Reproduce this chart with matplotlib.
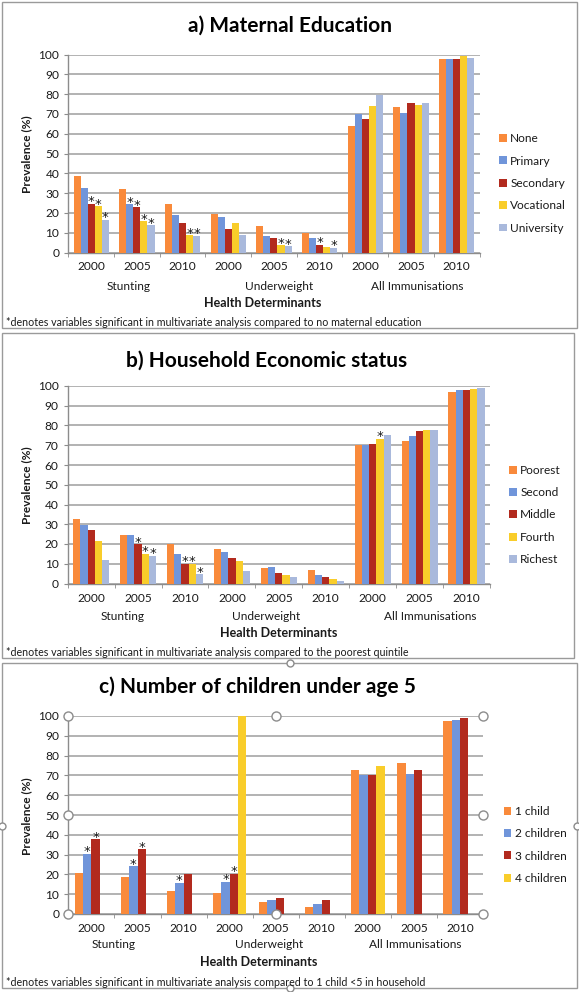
import numpy as np
import matplotlib
matplotlib.use("Agg")
import matplotlib.pyplot as plt
from matplotlib.patches import Rectangle
from matplotlib.transforms import blended_transform_factory

plt.rcParams['font.family'] = ['Lato', 'DejaVu Sans']

# categories
years = ['2000', '2005', '2010'] * 3
determinants = ['Stunting', 'Underweight', 'All Immunisations']
nan = np.nan

# a) maternal education
edu_labels = ['None', 'Primary', 'Secondary', 'Vocational', 'University']
edu_none = [38.8, 32.2, 24.6, 19.6, 13.2, 10.1, 64.1, 73.5, 97.8]
edu_primary = [32.7, 24.3, 18.7, 17.7, 8.4, 7.1, 70.2, 70.7, 97.5]
edu_secondary = [24.5, 22.8, 14.8, 11.8, 7.3, 4.0, 67.5, 75.5, 97.5]
edu_vocational = [23.3, 15.7, 8.6, 15.0, 3.6, 2.9, 73.9, 74.4, 99.2]
edu_university = [16.5, 13.8, 8.4, 8.6, 3.2, 2.4, 79.3, 75.7, 98.0]
# (group, series) pairs marked with *
edu_stars = [(0, 2), (0, 3), (0, 4), (1, 1), (1, 2), (1, 3), (1, 4),
             (2, 3), (2, 4), (4, 3), (4, 4), (5, 2), (5, 4)]

# b) household economic status
ses_labels = ['Poorest', 'Second', 'Middle', 'Fourth', 'Richest']
ses_poorest = [32.8, 24.8, 19.9, 17.7, 8.1, 6.6, 70.3, 72.3, 97.1]
ses_second = [29.7, 24.8, 14.8, 15.9, 8.4, 4.2, 70.3, 74.7, 97.8]
ses_middle = [26.9, 19.9, 10.1, 12.7, 5.2, 3.4, 70.6, 77.2, 98.0]
ses_fourth = [21.5, 14.9, 9.9, 11.5, 4.1, 2.4, 73.3, 77.5, 98.3]
ses_richest = [12.0, 13.9, 4.6, 6.1, 3.5, 1.5, 75.3, 77.9, 99.0]
ses_stars = [(1, 2), (1, 3), (1, 4), (2, 2), (2, 3), (2, 4), (6, 3)]

# c) number of children under 5
kids_labels = ['1 child', '2 children', '3 children', '4 children']
kids_1 = [20.5, 18.6, 11.6, 10.4, 5.9, 3.5, 72.9, 76.4, 97.6]
kids_2 = [30.4, 24.0, 15.8, 16.3, 6.9, 5.0, 70.2, 70.5, 98.1]
kids_3 = [37.8, 32.6, 20.0, 20.3, 7.9, 7.1, 70.2, 72.6, 98.8]
kids_4 = [nan, nan, nan, 100.0, nan, nan, 74.9, nan, nan]
kids_stars = [(0, 1), (0, 2), (1, 1), (1, 2), (2, 1), (3, 1), (3, 2)]

colors = ['#F98A3B', '#7095DA', '#B22A1E', '#F9CD2A', '#A9B9DC']
grid_c = '#A6A6A6'
axis_c = '#8C8C8C'
text_c = '#1A1A1A'
fs = 8.6

W, H = 579, 992
fig = plt.figure(figsize=(W / 100, H / 100), dpi=100)


def rect(x0, y0, x1, y1):
    return [x0 / W, 1 - y1 / H, (x1 - x0) / W, (y1 - y0) / H]


panels = [
    dict(box=(2, 2, 577, 328), plot=(68.4, 54.5, 479.5, 252.5),
         title='a) Maternal Education', title_xy=(290, 26),
         series=[edu_none, edu_primary, edu_secondary, edu_vocational, edu_university],
         labels=edu_labels, stars=edu_stars, width=0.154,
         group_x=[0.81, 4.12, 7.14], year_y=269, group_y=287,
         hd_xy=(263, 303), ylab_y=154, leg_xy=(499, 183.5),
         note='*denotes variables significant in multivariate analysis compared to no maternal education',
         note_y=322),
    dict(box=(2, 333, 574, 658), plot=(67.7, 386, 490, 583.5),
         title='b) Household Economic status', title_xy=(267, 361),
         series=[ses_poorest, ses_second, ses_middle, ses_fourth, ses_richest],
         labels=ses_labels, stars=ses_stars, width=0.154,
         group_x=[0.66, 3.73, 7.23], year_y=600, group_y=617,
         hd_xy=(279, 633), ylab_y=485, leg_xy=(509, 515),
         note='*denotes variables significant in multivariate analysis compared to the poorest quintile',
         note_y=652),
    dict(box=(2, 663, 577, 988), plot=(68.4, 716, 483, 914),
         title='c) Number of children under age 5', title_xy=(257, 687),
         series=[kids_1, kids_2, kids_3, kids_4],
         labels=kids_labels, stars=kids_stars, width=0.182,
         group_x=[0.48, 3.86, 7.03], year_y=930, group_y=945,
         hd_xy=(259, 962), ylab_y=816, leg_xy=(503.5, 845),
         note='*denotes variables significant in multivariate analysis compared to 1 child <5 in household',
         note_y=983, handles=True),
]

for p in panels:
    x0, y0, x1, y1 = p['plot']
    ax = fig.add_axes(rect(x0, y0, x1, y1))
    n = len(p['series'])
    w = p['width']
    x = np.arange(9)
    bars = []
    for i, vals in enumerate(p['series']):
        pos = x + (i - (n - 1) / 2) * w
        b = ax.bar(pos, vals, width=w, color=colors[i], zorder=3, label=p['labels'][i])
        bars.append(b)
    for g, s in p['stars']:
        pos = g + (s - (n - 1) / 2) * w
        ax.annotate('*', (pos, p['series'][s][g]), xytext=(0, 1.5), textcoords='offset points',
                    ha='center', va='center', fontsize=9.5, family='DejaVu Sans',
                    color=text_c, zorder=4)

    ax.set_xlim(-0.5, 8.5)
    ax.set_ylim(0, 100)
    ax.set_yticks(range(0, 101, 10))
    ax.yaxis.grid(True, color=grid_c, lw=1.2, zorder=0)
    ax.set_axisbelow(True)
    for sp in ['top', 'right']:
        ax.spines[sp].set_visible(False)
    for sp in ['left', 'bottom']:
        ax.spines[sp].set_color(axis_c)
        ax.spines[sp].set_linewidth(1.0)
    ax.set_xticks(x)
    ax.set_xticklabels(years)
    ax.set_xticks(np.arange(-0.5, 9, 1), minor=True)
    pad_px = p['year_y'] - y1 - 7.5
    ax.tick_params(axis='x', which='major', length=0, pad=pad_px * 0.72, labelsize=fs, labelcolor=text_c)
    ax.tick_params(axis='x', which='minor', length=3, color=axis_c, direction='out')
    ax.tick_params(axis='y', length=3, color=axis_c, pad=3.5, labelsize=fs, labelcolor=text_c)

    tr = blended_transform_factory(ax.transData, fig.transFigure)
    for gx, lab in zip(p['group_x'], determinants):
        ax.text(gx, 1 - p['group_y'] / H, lab, transform=tr, ha='center', va='center',
                fontsize=fs, color=text_c)

    fig.legend(handles=bars, labels=p['labels'], loc='center left',
               bbox_to_anchor=(p['leg_xy'][0] / W, 1 - p['leg_xy'][1] / H),
               frameon=False, fontsize=fs, handlelength=0.65, handleheight=0.65,
               handletextpad=0.3, labelspacing=0.95, borderpad=0, borderaxespad=0,
               labelcolor=text_c)

    if p.get('handles'):
        ax.plot([0, 0.5, 1, 0, 1, 0, 0.5, 1], [1, 1, 1, 0.5, 0.5, 0, 0, 0], 'o',
                transform=ax.transAxes, clip_on=False, ms=6.5, mfc='white',
                mec=axis_c, mew=1.0, zorder=6)

# overlay for frames and free text, in pixel units
ov = fig.add_axes([0, 0, 1, 1])
ov.set_xlim(0, W)
ov.set_ylim(H, 0)
ov.axis('off')
ov.patch.set_visible(False)
for p in panels:
    bx0, by0, bx1, by1 = p['box']
    ov.add_patch(Rectangle((bx0, by0), bx1 - bx0, by1 - by0, fill=False,
                           ec='#9A9A9A', lw=1.0))
    ov.text(p['title_xy'][0], p['title_xy'][1], p['title'], ha='center', va='center',
            fontsize=15, fontweight='bold', color='black')
    ov.text(27, p['ylab_y'], 'Prevalence (%)', rotation=90, ha='center', va='center',
            fontsize=8.6, fontweight='bold', color=text_c)
    ov.text(p['hd_xy'][0], p['hd_xy'][1], 'Health Determinants', ha='center', va='center',
            fontsize=9, fontweight='bold', color=text_c)
    ov.text(5.5, p['note_y'], p['note'], ha='left', va='center', fontsize=7.7, color=text_c)
    if p.get('handles'):
        my = (by0 + by1) / 2
        ov.plot([290, 290, bx0, bx1], [by0, by1, my, my], 'o', ms=5, mfc='white',
                mec=axis_c, mew=1.0, clip_on=False)

fig.savefig('out.png', dpi=100)
